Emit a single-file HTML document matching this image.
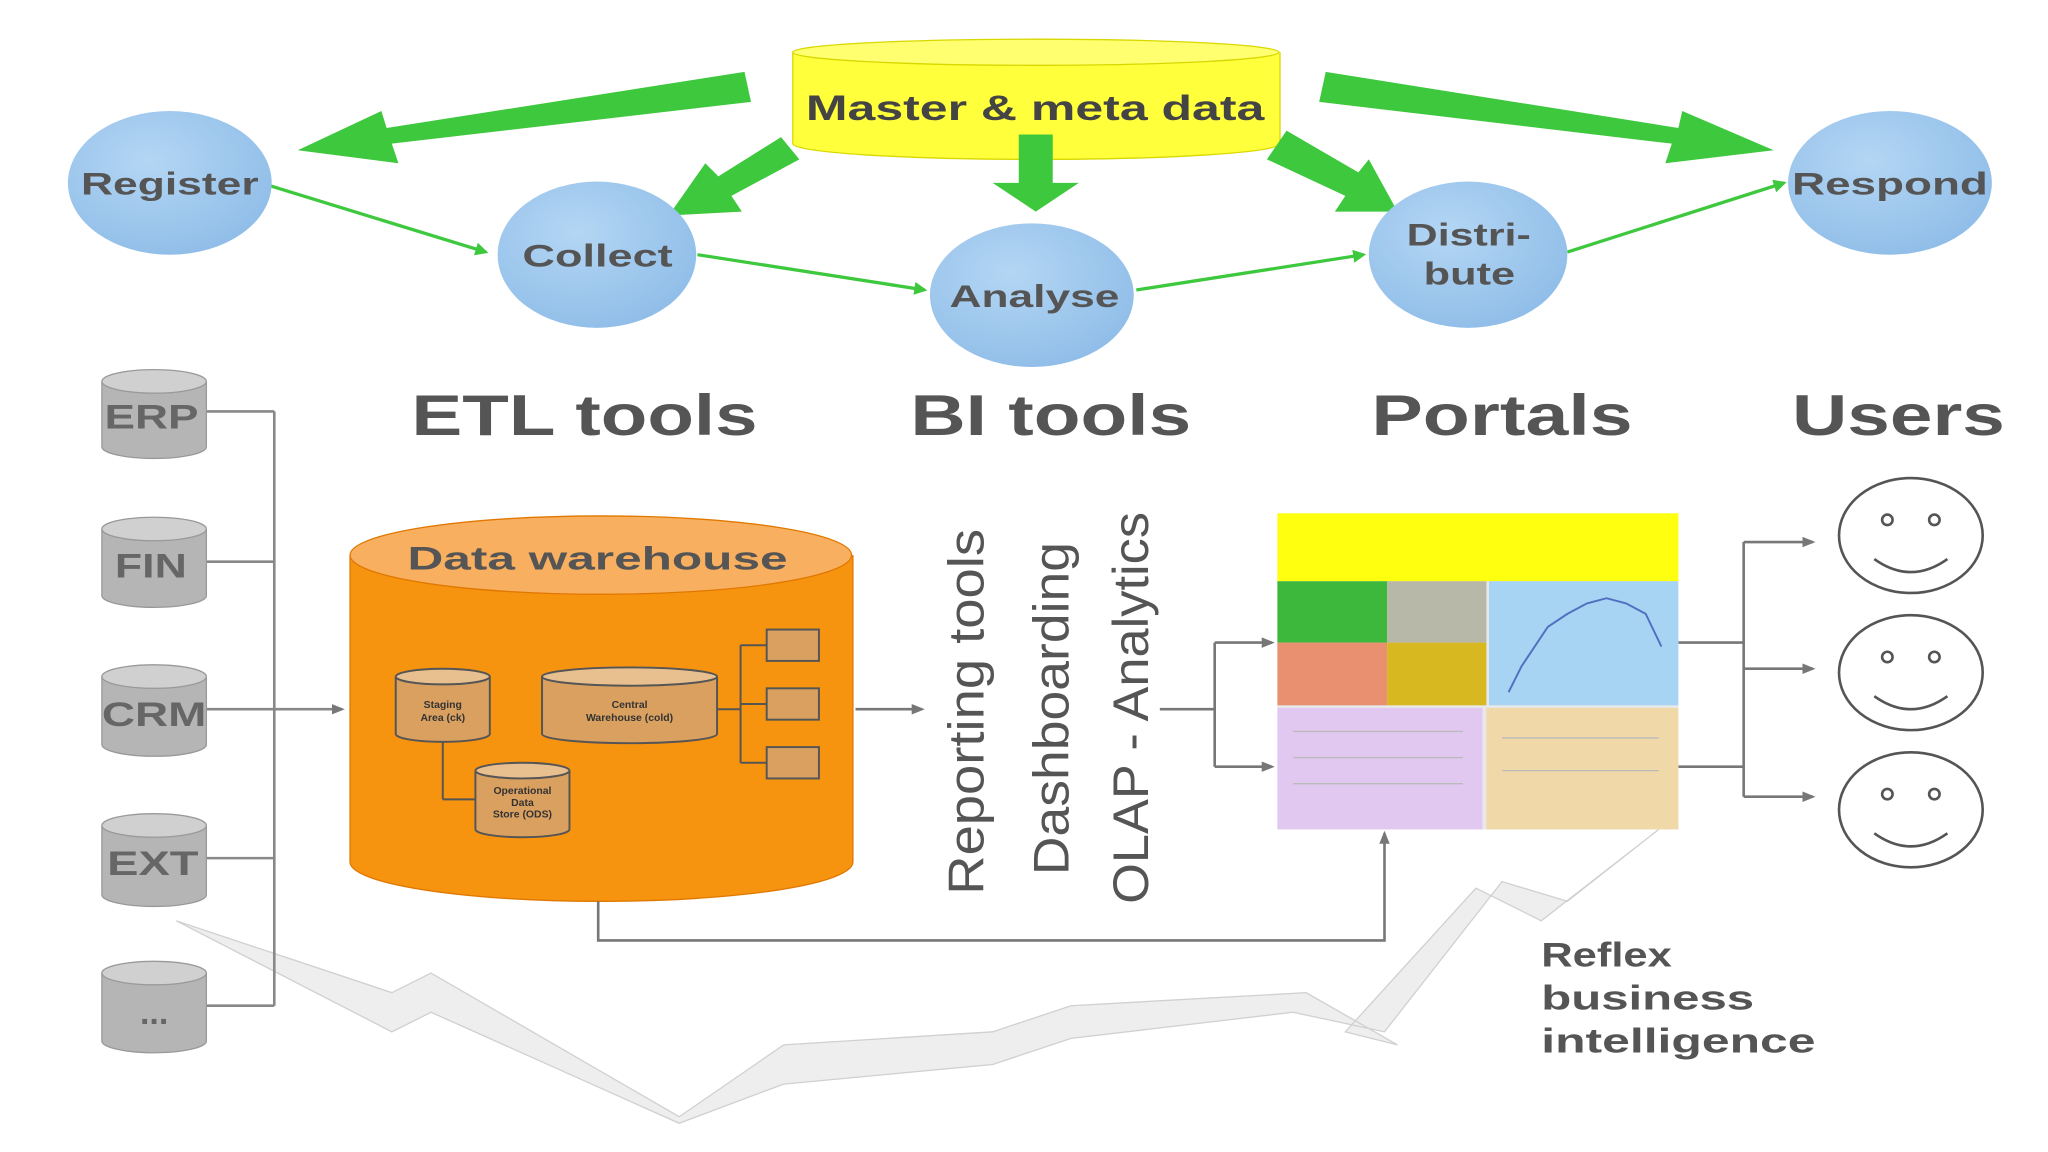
<!DOCTYPE html>
<html><head><meta charset="utf-8"><style>
html,body{margin:0;padding:0;background:#fff;}
svg{display:block;}
text{font-family:"Liberation Sans",Arial,sans-serif;font-weight:bold;}
</style></head><body>
<svg width="2048" height="1152" viewBox="0 0 1568 882" xmlns="http://www.w3.org/2000/svg">
<defs>
<marker id="ag" markerWidth="10" markerHeight="10" refX="8" refY="5" orient="auto" markerUnits="userSpaceOnUse"><path d="M0,0 L10,5 L0,10 z" fill="#3ec83e"/></marker>
<marker id="ak" markerWidth="10" markerHeight="10" refX="8" refY="5" orient="auto" markerUnits="userSpaceOnUse"><path d="M0,1 L10,5 L0,9 z" fill="#777"/></marker>
<radialGradient id="bl" cx="0.4" cy="0.35" r="0.7"><stop offset="0" stop-color="#b4d6f4"/><stop offset="1" stop-color="#8fbde8"/></radialGradient>
</defs>
<rect width="1568" height="882" fill="#fff"/>
<!-- lightning -->
<path d="M135,705 L300,760 L330,745 L520,855 L600,800 L760,790 L820,770 L1000,760 L1070,800 L1030,790 L1130,680 L1180,705 L1270,635 L1200,690 L1150,675 L1060,790 L990,775 L820,795 L760,815 L600,830 L520,860 L330,775 L300,790 z" fill="#eeeeee" stroke="#d0d0d0" stroke-width="1"/>
<!-- master cylinder -->
<path d="M607,40 L607,110 A186,12 0 0 0 980,110 L980,40" fill="#ffff3c" stroke="#d8d800"/>
<ellipse cx="793" cy="40" rx="186" ry="10" fill="#ffff70" stroke="#d8d800"/>
<text x="617" y="92" font-size="27" textLength="351" lengthAdjust="spacingAndGlyphs" fill="#444">Master &amp; meta data</text>
<!-- big green arrows -->
<g fill="#3ec83e">
<polygon points="570,55 575,78 300,110 305,125 228,115 292,85 296,98"/>
<polygon points="598,105 612,122 560,150 568,162 512,165 540,125 550,135"/>
<polygon points="780,103 806,103 806,140 826,140 793,162 760,140 780,140"/>
<polygon points="985,100 970,122 1030,150 1022,162 1070,162 1048,122 1040,132"/>
<polygon points="1015,55 1010,78 1280,110 1275,125 1358,115 1288,85 1285,98"/>
</g>
<!-- thin green lines -->
<g stroke="#3ec83e" stroke-width="2.5" fill="none" marker-end="url(#ag)">
<line x1="206" y1="142" x2="372" y2="193"/>
<line x1="534" y1="195" x2="708" y2="222"/>
<line x1="870" y1="222" x2="1044" y2="195"/>
<line x1="1200" y1="193" x2="1366" y2="140"/>
</g>
<!-- ellipses -->
<g fill="url(#bl)">
<ellipse cx="130" cy="140" rx="78" ry="55"/>
<ellipse cx="457" cy="195" rx="76" ry="56"/>
<ellipse cx="790" cy="226" rx="78" ry="55"/>
<ellipse cx="1124" cy="195" rx="76" ry="56"/>
<ellipse cx="1447" cy="140" rx="78" ry="55"/>
</g>
<g font-size="24" fill="#555" lengthAdjust="spacingAndGlyphs">
<text x="62" y="149" textLength="136" lengthAdjust="spacingAndGlyphs">Register</text>
<text x="400" y="204" textLength="115" lengthAdjust="spacingAndGlyphs">Collect</text>
<text x="727" y="235" textLength="130" lengthAdjust="spacingAndGlyphs">Analyse</text>
<text x="1077" y="188" textLength="95" lengthAdjust="spacingAndGlyphs">Distri-</text>
<text x="1090" y="218" textLength="70" lengthAdjust="spacingAndGlyphs">bute</text>
<text x="1372" y="149" textLength="150" lengthAdjust="spacingAndGlyphs">Respond</text>
</g>
<!-- headers -->
<g font-size="44" fill="#555">
<text x="315" y="333" textLength="265" lengthAdjust="spacingAndGlyphs">ETL tools</text>
<text x="697" y="333" textLength="215" lengthAdjust="spacingAndGlyphs">BI tools</text>
<text x="1050" y="333" textLength="200" lengthAdjust="spacingAndGlyphs">Portals</text>
<text x="1372" y="333" textLength="163" lengthAdjust="spacingAndGlyphs">Users</text>
</g>
<!-- sources -->
<g stroke="#888" stroke-width="2" fill="none">
<line x1="158" y1="315" x2="210" y2="315"/><line x1="158" y1="430" x2="210" y2="430"/>
<line x1="158" y1="543" x2="210" y2="543"/><line x1="158" y1="657" x2="210" y2="657"/>
<line x1="158" y1="770" x2="210" y2="770"/><line x1="210" y1="315" x2="210" y2="770"/>
<line x1="210" y1="543" x2="262" y2="543" marker-end="url(#ak)"/>
</g>
<g fill="#b5b5b5" stroke="#999">
<path d="M78,292 L78,342 A40,9 0 0 0 158,342 L158,292"/><ellipse cx="118" cy="292" rx="40" ry="9" fill="#d0d0d0"/>
<path d="M78,405 L78,456 A40,9 0 0 0 158,456 L158,405"/><ellipse cx="118" cy="405" rx="40" ry="9" fill="#d0d0d0"/>
<path d="M78,518 L78,570 A40,9 0 0 0 158,570 L158,518"/><ellipse cx="118" cy="518" rx="40" ry="9" fill="#d0d0d0"/>
<path d="M78,632 L78,685 A40,9 0 0 0 158,685 L158,632"/><ellipse cx="118" cy="632" rx="40" ry="9" fill="#d0d0d0"/>
<path d="M78,745 L78,797 A40,9 0 0 0 158,797 L158,745"/><ellipse cx="118" cy="745" rx="40" ry="9" fill="#d0d0d0"/>
</g>
<g font-size="26" fill="#666">
<text x="80" y="328" textLength="72" lengthAdjust="spacingAndGlyphs">ERP</text>
<text x="88" y="442" textLength="55" lengthAdjust="spacingAndGlyphs">FIN</text>
<text x="78" y="556" textLength="80" lengthAdjust="spacingAndGlyphs">CRM</text>
<text x="82" y="670" textLength="70" lengthAdjust="spacingAndGlyphs">EXT</text>
<text x="118" y="784" text-anchor="middle">...</text>
</g>
<!-- data warehouse -->
<path d="M268,425 L268,660 A192,30 0 0 0 653,660 L653,425" fill="#f7940f" stroke="#e07800"/>
<ellipse cx="460" cy="425" rx="192" ry="30" fill="#f8b060" stroke="#e07800"/>
<text x="312" y="436" font-size="25" textLength="291" lengthAdjust="spacingAndGlyphs" fill="#555">Data warehouse</text>
<g fill="#d9a060" stroke="#555" stroke-width="1.5">
<path d="M303,518 L303,562 A36,6 0 0 0 375,562 L375,518"/><ellipse cx="339" cy="518" rx="36" ry="6" fill="#e8c090"/>
<path d="M415,518 L415,562 A67,7 0 0 0 549,562 L549,518"/><ellipse cx="482" cy="518" rx="67" ry="7" fill="#e8c090"/>
<path d="M364,590 L364,635 A36,6 0 0 0 436,635 L436,590"/><ellipse cx="400" cy="590" rx="36" ry="6" fill="#e8c090"/>
<rect x="587" y="482" width="40" height="24"/><rect x="587" y="527" width="40" height="24"/><rect x="587" y="572" width="40" height="24"/>
</g>
<g stroke="#555" stroke-width="1.5" fill="none">
<line x1="549" y1="543" x2="567" y2="543"/><line x1="567" y1="494" x2="567" y2="584"/>
<line x1="567" y1="494" x2="587" y2="494"/><line x1="567" y1="539" x2="587" y2="539"/><line x1="567" y1="584" x2="587" y2="584"/>
<line x1="339" y1="568" x2="339" y2="612"/><line x1="339" y1="612" x2="364" y2="612"/>
</g>
<g font-size="8" fill="#333" text-anchor="middle">
<text x="339" y="542">Staging</text><text x="339" y="552">Area (ck)</text>
<text x="482" y="542">Central</text><text x="482" y="552">Warehouse (cold)</text>
<text x="400" y="608">Operational</text><text x="400" y="617">Data</text><text x="400" y="626">Store (ODS)</text>
</g>
<!-- arrows to BI -->
<g stroke="#777" stroke-width="2" fill="none">
<line x1="655" y1="543" x2="706" y2="543" marker-end="url(#ak)"/>
<line x1="888" y1="543" x2="930" y2="543"/><line x1="930" y1="492" x2="930" y2="587"/>
<line x1="930" y1="492" x2="974" y2="492" marker-end="url(#ak)"/>
<line x1="930" y1="587" x2="974" y2="587" marker-end="url(#ak)"/>
<polyline points="458,690 458,720 1060,720 1060,638" marker-end="url(#ak)"/>
<line x1="1285" y1="492" x2="1335" y2="492"/><line x1="1285" y1="587" x2="1335" y2="587"/>
<line x1="1335" y1="415" x2="1335" y2="610"/>
<line x1="1335" y1="415" x2="1388" y2="415" marker-end="url(#ak)"/>
<line x1="1335" y1="512" x2="1388" y2="512" marker-end="url(#ak)"/>
<line x1="1335" y1="610" x2="1388" y2="610" marker-end="url(#ak)"/>
</g>
<!-- rotated texts -->
<g font-size="38" fill="#555">
<text transform="translate(753,685) rotate(-90)" textLength="280" lengthAdjust="spacingAndGlyphs" style="font-weight:normal">Reporting tools</text>
<text transform="translate(818,670) rotate(-90)" textLength="255" lengthAdjust="spacingAndGlyphs" style="font-weight:normal">Dashboarding</text>
<text transform="translate(879,692) rotate(-90)" textLength="300" lengthAdjust="spacingAndGlyphs" style="font-weight:normal">OLAP - Analytics</text>
</g>
<!-- portal -->
<rect x="978" y="393" width="307" height="242" fill="#e8e8e8"/>
<rect x="978" y="393" width="307" height="52" fill="#ffff10"/>
<rect x="978" y="445" width="84" height="47" fill="#3db83d"/>
<rect x="1062" y="445" width="76" height="47" fill="#b8b8a8"/>
<rect x="978" y="492" width="84" height="48" fill="#e89070"/>
<rect x="1062" y="492" width="76" height="48" fill="#d8b820"/>
<rect x="1140" y="445" width="145" height="95" fill="#a8d4f4"/>
<polyline points="1155,530 1165,510 1175,495 1185,480 1200,470 1215,462 1230,458 1245,462 1260,470 1272,495" fill="none" stroke="#5070c0" stroke-width="1.5"/>
<rect x="978" y="542" width="157" height="93" fill="#e0c8f0"/>
<rect x="1138" y="542" width="147" height="93" fill="#f0d8a8"/>
<g stroke="#bbb" stroke-width="1"><line x1="990" y1="560" x2="1120" y2="560"/><line x1="990" y1="580" x2="1120" y2="580"/><line x1="990" y1="600" x2="1120" y2="600"/><line x1="1150" y1="565" x2="1270" y2="565"/><line x1="1150" y1="590" x2="1270" y2="590"/></g>
<!-- smileys -->
<g fill="none" stroke="#555" stroke-width="2">
<ellipse cx="1463" cy="410" rx="55" ry="44"/><ellipse cx="1463" cy="515" rx="55" ry="44"/><ellipse cx="1463" cy="620" rx="55" ry="44"/>
<path d="M1435,428 Q1463,448 1491,428"/><path d="M1435,533 Q1463,553 1491,533"/><path d="M1435,638 Q1463,658 1491,638"/>
<circle cx="1445" cy="398" r="4"/><circle cx="1481" cy="398" r="4"/>
<circle cx="1445" cy="503" r="4"/><circle cx="1481" cy="503" r="4"/>
<circle cx="1445" cy="608" r="4"/><circle cx="1481" cy="608" r="4"/>
</g>
<g font-size="26" fill="#555">
<text x="1180" y="740" textLength="100" lengthAdjust="spacingAndGlyphs">Reflex</text>
<text x="1180" y="773" textLength="163" lengthAdjust="spacingAndGlyphs">business</text>
<text x="1180" y="806" textLength="210" lengthAdjust="spacingAndGlyphs">intelligence</text>
</g>
</svg>
</body></html>
